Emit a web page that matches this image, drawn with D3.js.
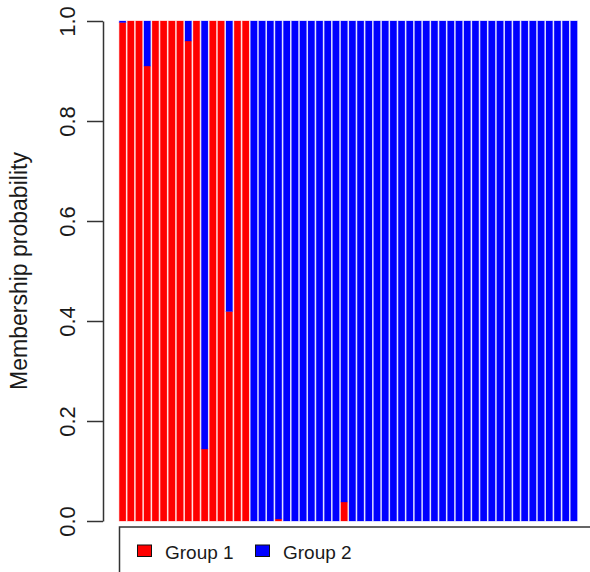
<!DOCTYPE html>
<html>
<head>
<meta charset="utf-8">
<script src="https://cdn.jsdelivr.net/npm/d3@7"></script>
<style>
  html, body { margin: 0; padding: 0; background: #fff; }
  svg { display: block; }
  text { font-family: "Liberation Sans", Arial, sans-serif; fill: #1a1a1a; }
</style>
</head>
<body>
<svg id="chart" width="590" height="572"></svg>
<script>
// Individuals (56 bars)
const individuals = d3.range(1, 57);
// Group 1 membership probability per individual (Group 2 = 1 - Group 1)
const group1 = [
  0.997, 1, 1, 0.91, 1, 1, 1, 1, 0.96, 1, 0.144, 1, 1, 0.419, 1, 1,
  0, 0, 0, 0.004, 0, 0, 0, 0, 0, 0, 0, 0.038, 0, 0, 0, 0,
  0, 0, 0, 0, 0, 0, 0, 0, 0, 0, 0, 0, 0, 0, 0, 0,
  0, 0, 0, 0, 0, 0, 0, 0
];
const group2 = group1.map(v => 1 - v);
const seriesNames = ["Group 1", "Group 2"];
const seriesColors = ["#ff0000", "#0000ff"];
const yTicks = [0, 0.2, 0.4, 0.6, 0.8, 1.0];
const yLabel = "Membership probability";

const svg = d3.select("#chart");

const x = d3.scaleBand()
  .domain(individuals)
  .range([118.5, 578])
  .paddingInner(0.2)
  .paddingOuter(0.1);

const y = d3.scaleLinear().domain([0, 1]).range([521, 21]);

const rows = individuals.map((id, i) => ({ id, "Group 1": group1[i], "Group 2": group2[i] }));
const stacked = d3.stack().keys(seriesNames)(rows);

const layers = svg.append("g")
  .selectAll("g")
  .data(stacked)
  .join("g")
  .attr("fill", (d, i) => seriesColors[i])
  .attr("stroke", (d, i) => seriesColors[i])
  .attr("stroke-opacity", 0.3)
  .attr("stroke-width", 1);

layers.selectAll("rect")
  .data(d => d.filter(s => s[1] - s[0] > 0))
  .join("rect")
  .attr("x", d => x(d.data.id))
  .attr("width", x.bandwidth())
  .attr("y", d => y(d[1]))
  .attr("height", d => y(d[0]) - y(d[1]));

// Y axis
const yAxis = svg.append("g")
  .attr("transform", "translate(103,0)")
  .call(d3.axisLeft(y).tickValues(yTicks).tickFormat(d3.format(".1f")).tickSize(16).tickSizeOuter(0));
yAxis.select(".domain").attr("stroke", "#333").attr("stroke-width", 1.5);
yAxis.selectAll(".tick line").attr("stroke", "#333").attr("stroke-width", 1.5);
yAxis.selectAll(".tick text").remove();
yAxis.selectAll(".tick")
  .append("text")
  .attr("transform", "translate(-28,0) rotate(-90)")
  .attr("text-anchor", "middle")
  .attr("dy", 0)
  .style("font-size", "22px")
  .style("font-family", "'Liberation Sans', Arial, sans-serif")
  .attr("fill", "#111")
  .text(d => d3.format(".1f")(d));

// Y label
svg.append("text")
  .attr("transform", `translate(27,${(y(0) + y(1)) / 2}) rotate(-90)`)
  .attr("text-anchor", "middle")
  .style("font-size", "23px")
  .attr("fill", "#111")
  .text(yLabel);

// Legend box (partially outside the view)
svg.append("path")
  .attr("d", "M119.5,572 L119.5,527 L590,527")
  .attr("fill", "none")
  .attr("stroke", "#333")
  .attr("stroke-width", 1.5);

const legendX = [137.5, 255.5];
const legend = svg.append("g")
  .selectAll("g")
  .data(seriesNames)
  .join("g")
  .attr("transform", (d, i) => `translate(${legendX[i]},545)`);
legend.append("rect")
  .attr("width", 14)
  .attr("height", 11.5)
  .attr("fill", (d, i) => seriesColors[i])
  .attr("stroke", "#111")
  .attr("stroke-width", 1);
legend.append("text")
  .attr("x", 27.5)
  .attr("y", 14)
  .style("font-size", "19px")
  .attr("fill", "#111")
  .text(d => d);
</script>
</body>
</html>
